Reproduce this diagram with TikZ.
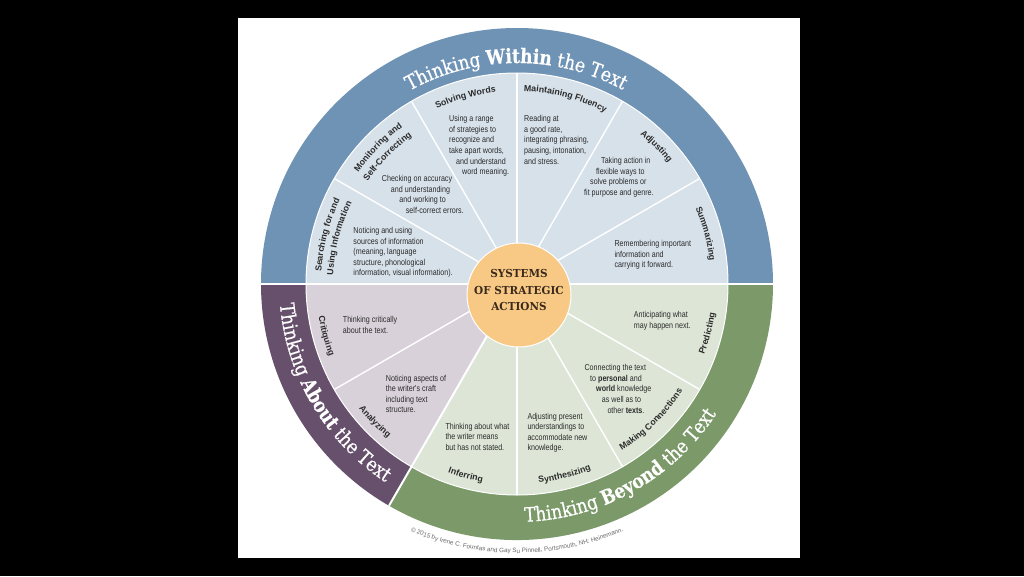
\documentclass[tikz,border=0pt]{standalone}
\usepackage{fontspec}
\usepackage{xcolor}
\usepackage{tikz}
\usetikzlibrary{decorations.text}

\setmainfont{Liberation Sans}
\newfontfamily\bodyfont[FakeStretch=0.83]{Liberation Sans}
\newfontfamily\headfont{Liberation Sans}
\newfontfamily\ringfont[FakeStretch=0.85,FakeBold=0.5]{DejaVu Serif}
\newfontfamily\ringboldfont[FakeStretch=0.85,FakeBold=0.6]{DejaVu Serif Bold}
\newfontfamily\hubfont[FakeStretch=0.95]{DejaVu Serif}

\definecolor{ringblue}{HTML}{6F93B5}
\definecolor{ringpurple}{HTML}{66506B}
\definecolor{ringgreen}{HTML}{7B9969}
\definecolor{wedgeblue}{HTML}{D7E1EA}
\definecolor{wedgepurple}{HTML}{D9D1DA}
\definecolor{wedgegreen}{HTML}{DCE5D6}
\definecolor{hubfill}{HTML}{F8C984}
\definecolor{hubink}{HTML}{3B2A1C}
\definecolor{ink}{HTML}{2B2B2B}
\definecolor{copygray}{HTML}{6A6A6A}

\newcommand{\ringfmt}{\ringfont\fontsize{20}{24}\selectfont\color{white}}
\newcommand{\ringfmtb}{\ringboldfont\fontsize{20}{24}\selectfont\color{white}}
\newcommand{\headfmt}{\headfont\bfseries\fontsize{8.8}{10}\selectfont\color{ink}}
\newcommand{\copyfmt}{\headfont\fontsize{6.3}{7}\selectfont\color{copygray}}
% text on an arc: glyphs facing out (upper half) / facing in (lower half)
\newcommand{\outarc}[3]{\path[decorate,decoration={text along path,text align=center,text={#3}}]
  ({#1+50}:#2) arc[start angle={#1+50},end angle={#1-50},radius=#2];}
\newcommand{\inarc}[3]{\path[decorate,decoration={text along path,text align=center,text={#3}}]
  ({#1-50}:#2) arc[start angle={#1-50},end angle={#1+50},radius=#2];}

\begin{document}
\begin{tikzpicture}[x=1pt,y=1pt,
  divider/.style={white, line width=1.4pt},
  seam/.style={white, line width=2pt},
  body/.style={font=\bodyfont\fontsize{8.6}{10.6}\selectfont, text=ink,
               align=left, inner sep=0pt, anchor=north west},
  hub/.style={circle, fill=hubfill, draw=white, line width=1pt,
              minimum size=104pt, inner sep=0pt},
  hubtext/.style={font=\hubfont\bfseries\fontsize{11}{16.7}\selectfont,
                  text=hubink, align=center, inner sep=0pt},
]
\useasboundingbox (-517,-292) rectangle (507,284);
\fill[black] (-517,-292) rectangle (507,284);
\fill[white] (-279,-274) rectangle (283,266);
% Outer ring
\fill[ringblue]   (0,0) -- (0:256)   arc[start angle=0,end angle=180,radius=256] -- cycle;
\fill[ringpurple] (0,0) -- (180:256) arc[start angle=180,end angle=240,radius=256] -- cycle;
\fill[ringgreen]  (0,0) -- (240:256) arc[start angle=240,end angle=360,radius=256] -- cycle;
% Inner wedges
\fill[wedgeblue]   (0,0) -- (0:211)   arc[start angle=0,end angle=180,radius=211] -- cycle;
\fill[wedgepurple] (0,0) -- (180:211) arc[start angle=180,end angle=240,radius=211] -- cycle;
\fill[wedgegreen]  (0,0) -- (240:211) arc[start angle=240,end angle=360,radius=211] -- cycle;
\draw[white, line width=1pt] (0,0) circle[radius=211];
\foreach \a in {30,60,...,150,210,270,300,330}
  \draw[divider] (0,0) -- (\a:211);
\draw[seam] (180:256) -- (0:256);
\draw[seam] (0,0) -- (240:256);
% Hub
\node[hub] (hub) at (2,-11) {};
\node[hubtext] (hubtxt) at (2,-6) {SYSTEMS\\OF STRATEGIC\\ACTIONS};
% Ring titles
\outarc{90.2}{221}{|\ringfmt|Thinking |\ringfmtb|Within|\ringfmt| the Text}
\inarc{210.6}{238}{|\ringfmt|Thinking |\ringfmtb|About|\ringfmt| the Text}
\inarc{299.4}{238}{|\ringfmt|Thinking |\ringfmtb|Beyond|\ringfmt| the Text}
% Wedge titles
\outarc{165.5}{196}{|\headfmt|Searching for and}
\outarc{165.5}{184}{|\headfmt|Using Information}
\outarc{135.5}{194}{|\headfmt|Monitoring and}
\outarc{135.5}{181}{|\headfmt|Self-Correcting}
\outarc{105.4}{193}{|\headfmt|Solving Words}
\outarc{75.4}{193}{|\headfmt|Maintaining Fluency}
\outarc{44.6}{194}{|\headfmt|Adjusting}
\outarc{14.9}{194}{|\headfmt|Summarizing}
\inarc{195.2}{201}{|\headfmt|Critiquing}
\inarc{224.1}{201}{|\headfmt|Analyzing}
\inarc{255}{201}{|\headfmt|Inferring}
\inarc{284}{200}{|\headfmt|Synthesizing}
\inarc{314.7}{197}{|\headfmt|Making Connections}
\inarc{345.5}{200}{|\headfmt|Predicting}
% Wedge texts
\node[body] (searchtxt) at (-163.7,57) {Noticing and using\\sources of information\\(meaning, language\\structure, phonological\\information, visual information).};
\node[body] (checktxt) at (-135.3,108.7) {Checking on accuracy\\\hspace*{9pt}and understanding\\\hspace*{17.5pt}and working to\\\hspace*{24pt}self-correct errors.};
\node[body] (solvetxt) at (-68,168.7) {Using a range\\of strategies to\\recognize and\\take apart words,\\\hspace*{7pt}and understand\\\hspace*{13pt}word meaning.};
\node[body] (fluencytxt) at (7,168.7) {Reading at\\a good rate,\\integrating phrasing,\\pausing, intonation,\\and stress.};
\node[body] (adjusttxt) at (67,127) {\hspace*{17pt}Taking action in\\\hspace*{12pt}flexible ways to\\\hspace*{6pt}solve problems or\\fit purpose and genre.};
\node[body] (summtxt) at (97.3,44) {Remembering important\\information and\\carrying it forward.};
\node[body] (crittxt) at (-174.3,-32) {Thinking critically\\about the text.};
\node[body] (analyzetxt) at (-131.3,-90.7) {Noticing aspects of\\the writer's craft\\including text\\structure.};
\node[body] (infertxt) at (-71.7,-138.7) {Thinking about what\\the writer means\\but has not stated.};
\node[body] (synthtxt) at (10.3,-128.7) {Adjusting present\\understandings to\\accommodate new\\knowledge.};
\node[body] (connecttxt) at (67.3,-80.3) {Connecting the text\\\hspace*{5.7pt}to \textbf{personal} and\\\hspace*{11.7pt}\textbf{world} knowledge\\\hspace*{17.4pt}as well as to\\\hspace*{23pt}other \textbf{texts}.};
\node[body] (predicttxt) at (116.7,-27) {Anticipating what\\may happen next.};
% Credit line
\inarc{270}{269}{|\copyfmt|© 2015 by Irene C. Fountas and Gay Su Pinnell, Portsmouth, NH: Heinemann.}
\end{tikzpicture}
\end{document}
